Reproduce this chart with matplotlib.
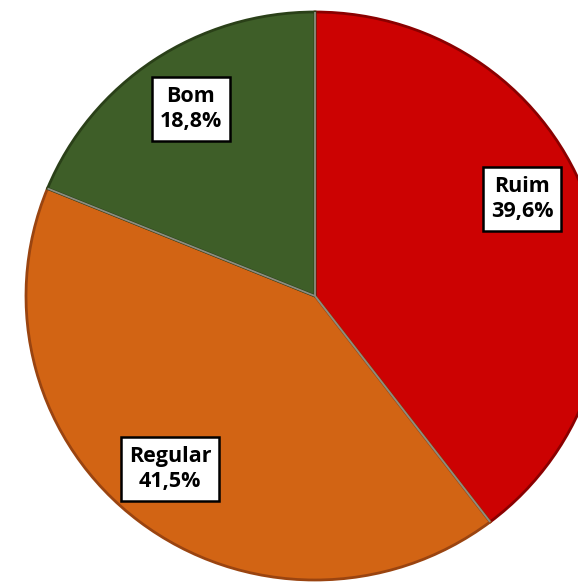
import numpy as np
import matplotlib.pyplot as plt

categorias = ['Ruim', 'Regular', 'Bom']
valores = [39.6, 41.5, 18.8]
cores = ['#CC0202', '#D26414', '#3E5E28']
bordas = ['#8a0000', '#9a4410', '#2a4018']
rotulos = ['Ruim\n39,6%', 'Regular\n41,5%', 'Bom\n18,8%']
# posição dos rótulos (pixels)
pos_rotulos = [(522, 199), (170, 469), (191, 109)]

W, H = 578, 582
ky = 289 / 284  # pizza levemente achatada na vertical

fig = plt.figure(figsize=(W / 100, H / 100), dpi=100)
ax = fig.add_axes([0, 0, 1, 1])

cx, cy, r = 315, 296 * ky, 289
wedges, _ = ax.pie(valores, colors=cores, startangle=-90, counterclock=True,
                   center=(cx, cy), radius=r, frame=True,
                   wedgeprops=dict(linewidth=2.0))
for w, b in zip(wedges, bordas):
    w.set_edgecolor(b)

# linhas claras entre as fatias
for w in wedges:
    a = np.deg2rad(w.theta1)
    ax.plot([cx, cx + r * np.cos(a)], [cy, cy + r * np.sin(a)],
            color='#8c8c80', lw=1.3, solid_capstyle='butt')

ax.set_aspect('auto')
ax.set_xlim(0, W)
ax.set_ylim(H * ky, 0)
ax.axis('off')

for txt, (x, y) in zip(rotulos, pos_rotulos):
    ax.text(x, y * ky, txt, ha='center', va='center', fontsize=15.5, fontweight='bold',
            family='Open Sans', linespacing=1.3, color='black',
            bbox=dict(boxstyle='square,pad=0.38', facecolor='white',
                      edgecolor='black', linewidth=1.8))

fig.savefig('out.png', dpi=100)
